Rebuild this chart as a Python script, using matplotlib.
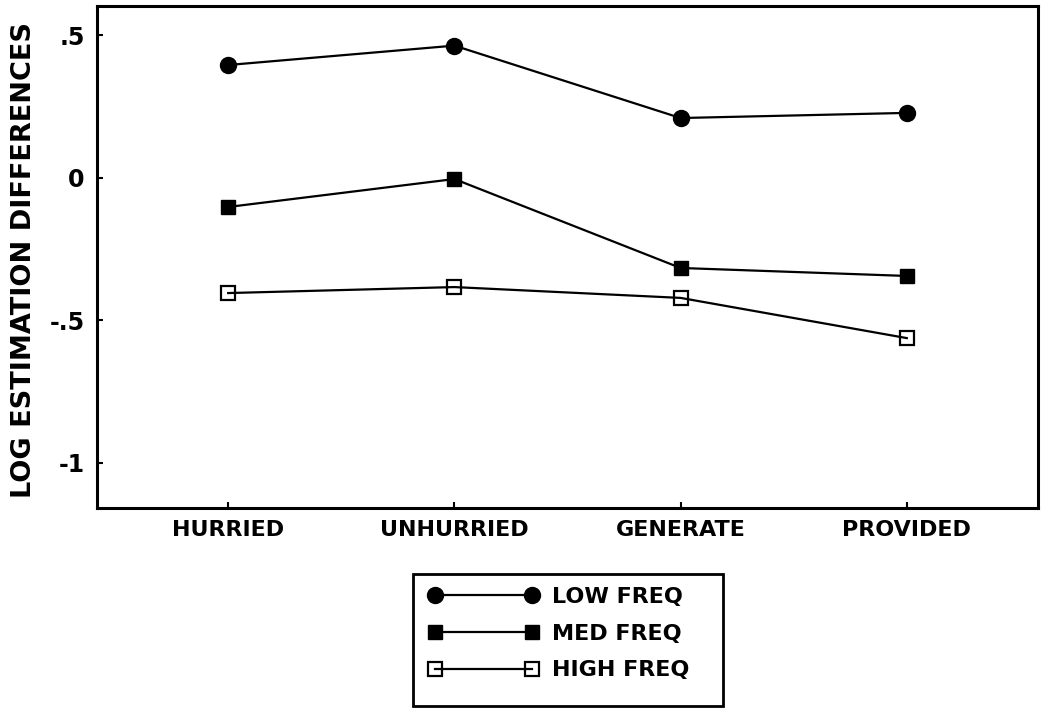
import numpy as np
import matplotlib
matplotlib.use('Agg')
import matplotlib.pyplot as plt
from matplotlib.patches import Rectangle

conditions = ['HURRIED', 'UNHURRIED', 'GENERATE', 'PROVIDED']
low_freq = [0.395, 0.463, 0.209, 0.227]
med_freq = [-0.103, -0.005, -0.317, -0.345]
high_freq = [-0.405, -0.384, -0.422, -0.563]
yticks = [0.5, 0, -0.5, -1]
yticklabels = ['.5', '0', '-.5', '-1']

plt.rcParams['font.family'] = 'DejaVu Sans'
plt.rcParams['font.weight'] = 'bold'

W, H = 1043, 710
fig = plt.figure(figsize=(W / 100, H / 100), dpi=100)
ax = fig.add_axes([97 / W, 1 - 508 / H, (1038 - 97) / W, (508 - 6) / H])

x = np.arange(1, len(conditions) + 1)
l1, = ax.plot(x, low_freq, '-', color='black', lw=1.6, marker='o', ms=11.5,
              mfc='black', mec='black', label='LOW FREQ')
l2, = ax.plot(x, med_freq, '-', color='black', lw=1.6, marker='s', ms=10.5,
              mfc='black', mec='black', label='MED FREQ')
l3, = ax.plot(x, high_freq, '-', color='black', lw=1.6, marker='s', ms=9.5,
              mfc='none', mec='black', mew=1.6, label='HIGH FREQ')

ax.set_xlim(0.42, 4.58)
ax.set_ylim(-1.159, 0.602)
ax.set_xticks(x)
ax.set_xticklabels(conditions, fontsize=16, fontweight='bold')
ax.set_yticks(yticks)
ax.set_yticklabels(yticklabels, fontsize=17, fontweight='bold')
ax.tick_params(direction='in', length=4, width=1.5, pad=9)
for s in ax.spines.values():
    s.set_linewidth(2.2)

fig.text(24 / W, 1 - 260 / H, 'LOG ESTIMATION DIFFERENCES', rotation=90,
         ha='center', va='center', fontsize=19.5, fontweight='bold')

# legend box
fig.add_artist(Rectangle((413 / W, 1 - 706 / H), (723 - 413) / W, (706 - 574) / H,
                         transform=fig.transFigure, fill=False, lw=2, ec='black'))
leg = fig.legend(handles=[l1, l2, l3], loc='upper left',
                 bbox_to_anchor=(428 / W, 1 - 587 / H), frameon=False,
                 numpoints=2, handlelength=4.97, handletextpad=0.62,
                 labelspacing=0.75, borderpad=0, borderaxespad=0,
                 prop={'size': 16, 'weight': 'bold'})

fig.savefig('out.png', dpi=100)
